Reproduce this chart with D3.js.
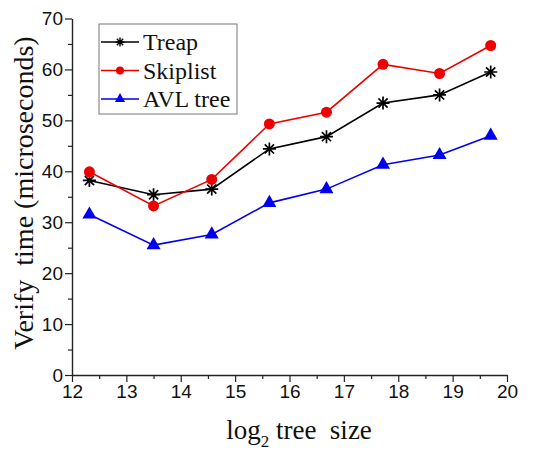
<!DOCTYPE html>
<html>
<head>
<meta charset="utf-8">
<script src="https://cdn.jsdelivr.net/npm/d3@7"></script>
<style>
  body { margin: 0; background: #fff; }
  svg { display: block; }
</style>
</head>
<body>
<div id="chart"></div>
<script>
// values
var treeSize = [12.32, 13.50, 14.57, 15.63, 16.68, 17.72, 18.76, 19.70];
var treap    = [38.2, 35.4, 36.5, 44.4, 46.8, 53.4, 55.0, 59.5];
var skiplist = [39.9, 33.2, 38.4, 49.3, 51.6, 61.0, 59.2, 64.7];
var avlTree  = [31.5, 25.5, 27.6, 33.8, 36.5, 41.3, 43.2, 47.0];
var xTicks = [12, 13, 14, 15, 16, 17, 18, 19, 20];
var yTicks = [0, 10, 20, 30, 40, 50, 60, 70];

var series = [
    { name: "Treap", values: treap, color: "#000000", marker: "star" },
    { name: "Skiplist", values: skiplist, color: "#ee0000", marker: "circle" },
    { name: "AVL tree", values: avlTree, color: "#0000ee", marker: "triangle" }
];

var chart_width = 544, chart_height = 451;
var margin = { top: 18.5, right: 37, bottom: 76, left: 72 };
var width = chart_width - margin.left - margin.right;
var height = chart_height - margin.top - margin.bottom;

var svg = d3.select("#chart")
    .append("svg")
    .attr("width", chart_width)
    .attr("height", chart_height);

var plot = svg.append("g")
    .attr("transform", "translate(" + margin.left + "," + margin.top + ")");

var x = d3.scaleLinear().domain([12, 20]).range([0, width]);
var y = d3.scaleLinear().domain([0, 70]).range([height, 0]);

// minor ticks first (short, outward)
plot.append("g")
    .attr("transform", "translate(0," + height + ")")
    .call(d3.axisBottom(x).tickValues(d3.range(12.5, 20, 1)).tickSize(4).tickFormat(""))
    .call(function (g) { g.select(".domain").remove(); })
    .selectAll("line").attr("stroke", "#222").attr("stroke-width", 1.2);
plot.append("g")
    .call(d3.axisLeft(y).tickValues(d3.range(5, 70, 10)).tickSize(4).tickFormat(""))
    .call(function (g) { g.select(".domain").remove(); })
    .selectAll("line").attr("stroke", "#222").attr("stroke-width", 1.2);

// X axis
var xAxisG = plot.append("g")
    .attr("transform", "translate(0," + height + ")")
    .call(d3.axisBottom(x).tickValues(xTicks).tickSize(7).tickSizeOuter(0).tickPadding(3).tickFormat(d3.format("d")));
xAxisG.selectAll("text")
    .style("font-family", "'Liberation Sans', Arial, sans-serif")
    .style("font-size", "19px")
    .attr("fill", "#111");

// Y axis
var yAxisG = plot.append("g")
    .call(d3.axisLeft(y).tickValues(yTicks).tickSize(7).tickSizeOuter(0).tickPadding(2).tickFormat(d3.format("d")));
yAxisG.selectAll("text")
    .style("font-family", "'Liberation Sans', Arial, sans-serif")
    .style("font-size", "19px")
    .attr("fill", "#111");

plot.selectAll(".domain").attr("stroke", "#222").attr("stroke-width", 1.4);
plot.selectAll(".tick line").attr("stroke", "#222").attr("stroke-width", 1.2);

// lines
var line = d3.line()
    .x(function (d, i) { return x(treeSize[i]); })
    .y(function (d) { return y(d); });

function drawMarker(g, type, color) {
    if (type === "circle") {
        g.append("circle").attr("r", 5.5).attr("fill", color);
    } else if (type === "triangle") {
        g.append("path")
            .attr("d", d3.symbol().type(d3.symbolTriangle).size(85))
            .attr("fill", color);
    } else {
        g.append("path")
            .attr("d", "M-6.5,0H6.5M0,-6.5V6.5M-4.6,-4.6L4.6,4.6M-4.6,4.6L4.6,-4.6")
            .attr("stroke", color)
            .attr("stroke-width", 1.7)
            .attr("fill", "none");
    }
}

series.forEach(function (s) {
    plot.append("path")
        .datum(s.values)
        .attr("d", line)
        .attr("fill", "none")
        .attr("stroke", s.color)
        .attr("stroke-width", 1.6);

    plot.selectAll(null)
        .data(s.values)
        .enter()
        .append("g")
        .attr("transform", function (d, i) { return "translate(" + x(treeSize[i]) + "," + y(d) + ")"; })
        .each(function () { drawMarker(d3.select(this), s.marker, s.color); });
});

// legend
var legend = svg.append("g").attr("transform", "translate(99,24)");
legend.append("rect")
    .attr("width", 138)
    .attr("height", 90)
    .attr("fill", "#fff")
    .attr("stroke", "#777")
    .attr("stroke-width", 1);

series.forEach(function (s, i) {
    var row = legend.append("g").attr("transform", "translate(0," + (18 + i * 28.5) + ")");
    row.append("line")
        .attr("x1", 2).attr("x2", 40)
        .attr("stroke", s.color)
        .attr("stroke-width", 1.6);
    var m = row.append("g").attr("transform", "translate(21,0)");
    if (s.marker === "circle") {
        m.append("circle").attr("r", 4).attr("fill", s.color);
    } else if (s.marker === "triangle") {
        m.append("path").attr("d", d3.symbol().type(d3.symbolTriangle).size(45)).attr("fill", s.color);
    } else {
        m.append("path")
            .attr("d", "M-4.5,0H4.5M0,-4.5V4.5M-3.2,-3.2L3.2,3.2M-3.2,3.2L3.2,-3.2")
            .attr("stroke", s.color).attr("stroke-width", 1.4);
    }
    row.append("text")
        .attr("x", 44)
        .attr("y", 8)
        .style("font-family", "'Liberation Serif', 'Times New Roman', serif")
        .style("font-size", "24px")
        .attr("fill", "#111")
        .text(s.name);
});

// Y label
svg.append("text")
    .attr("transform", "translate(33,193) rotate(-90)")
    .attr("text-anchor", "middle")
    .style("font-family", "'Liberation Serif', 'Times New Roman', serif")
    .style("font-size", "28px")
    .attr("fill", "#111")
    .style("white-space", "pre")
    .text("Verify  time (microseconds)");

// X label with subscript
var xl = svg.append("text")
    .attr("x", 299)
    .attr("y", 439)
    .attr("text-anchor", "middle")
    .style("font-family", "'Liberation Serif', 'Times New Roman', serif")
    .style("font-size", "27px")
    .attr("fill", "#111")
    .style("white-space", "pre");
xl.append("tspan").text("log");
xl.append("tspan").attr("dy", 8).style("font-size", "17px").text("2");
xl.append("tspan").attr("dy", -8).text(" tree  size");
</script>
</body>
</html>
